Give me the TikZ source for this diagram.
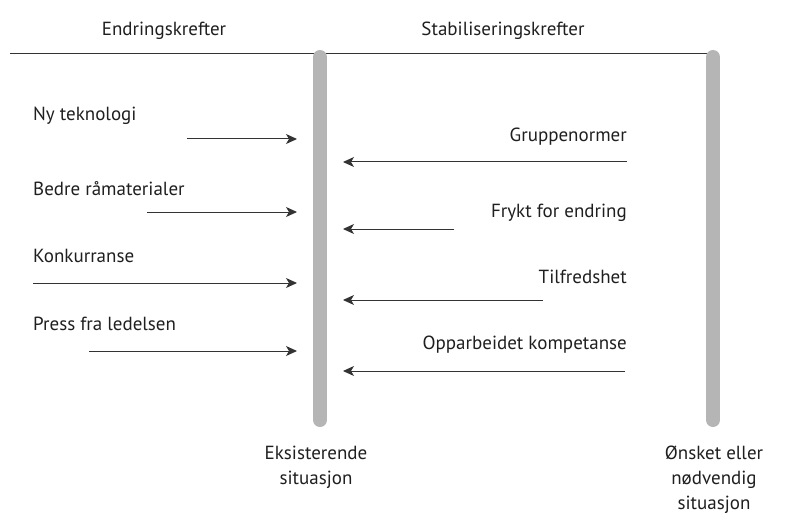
\documentclass[tikz,border=0pt]{standalone}
\usepackage{fontspec}
\setmainfont{PT Sans}
\usetikzlibrary{arrows.meta}
\definecolor{barcol}{HTML}{B5B5B5}
\definecolor{linecol}{HTML}{333333}
\tikzset{
  lbl/.style={inner sep=0pt, font=\fontsize{19}{25}\selectfont, text=black!88},
  lblL/.style={lbl, anchor=base west},
  lblR/.style={lbl, anchor=base east},
  bar/.style={line width=14pt, barcol, line cap=round},
  force/.style={linecol, line width=1pt, -{Stealth[length=11pt,width=10pt,inset=3pt]}},
  rule/.style={linecol, line width=0.8pt}
}
\begin{document}
\begin{tikzpicture}[x=1pt,y=-1pt]
\useasboundingbox (0,0) rectangle (786,513);
% header
\node[lbl, anchor=base] (hL) at (164,36) {Endringskrefter};
\node[lbl, anchor=base] (hR) at (503,36) {Stabiliseringskrefter};
\coordinate (r0) at (10,53);
\coordinate (r1) at (713,53);
\draw[rule] (r0) -- (r1);
% bars
\coordinate (b1t) at (320,57);
\coordinate (b1b) at (320,420);
\coordinate (b2t) at (713,57);
\coordinate (b2b) at (713,420);
\draw[bar] (b1t) -- (b1b);
\draw[bar] (b2t) -- (b2b);
% left forces
\node[lblL] (f1) at (33,121) {Ny teknologi};
\node[lblL] (f2) at (33,195) {Bedre råmaterialer};
\node[lblL] (f3) at (33,262) {Konkurranse};
\node[lblL] (f4) at (33,330) {Press fra ledelsen};
\coordinate (a1s) at (187,139); \coordinate (a1e) at (297,139);
\coordinate (a2s) at (147,212); \coordinate (a2e) at (297,212);
\coordinate (a3s) at (33,283);  \coordinate (a3e) at (297,283);
\coordinate (a4s) at (89,351);  \coordinate (a4e) at (297,351);
\draw[force] (a1s) -- (a1e);
\draw[force] (a2s) -- (a2e);
\draw[force] (a3s) -- (a3e);
\draw[force] (a4s) -- (a4e);
% right forces
\node[lblR] (s1) at (627,142) {Gruppenormer};
\node[lblR] (s2) at (627,217) {Frykt for endring};
\node[lblR] (s3) at (627,283) {Tilfredshet};
\node[lblR] (s4) at (627,349) {Opparbeidet kompetanse};
\coordinate (c1s) at (627,162); \coordinate (c1e) at (343,162);
\coordinate (c2s) at (454,229); \coordinate (c2e) at (343,229);
\coordinate (c3s) at (543,300); \coordinate (c3e) at (343,300);
\coordinate (c4s) at (625,371); \coordinate (c4e) at (343,371);
\draw[force] (c1s) -- (c1e);
\draw[force] (c2s) -- (c2e);
\draw[force] (c3s) -- (c3e);
\draw[force] (c4s) -- (c4e);
% bottom labels (anchor base = last line)
\node[lbl, anchor=base, align=center] (e1) at (316,484) {Eksisterende\\situasjon};
\node[lbl, anchor=base, align=center] (e2) at (714,509) {Ønsket eller\\nødvendig\\situasjon};
\end{tikzpicture}
\end{document}
